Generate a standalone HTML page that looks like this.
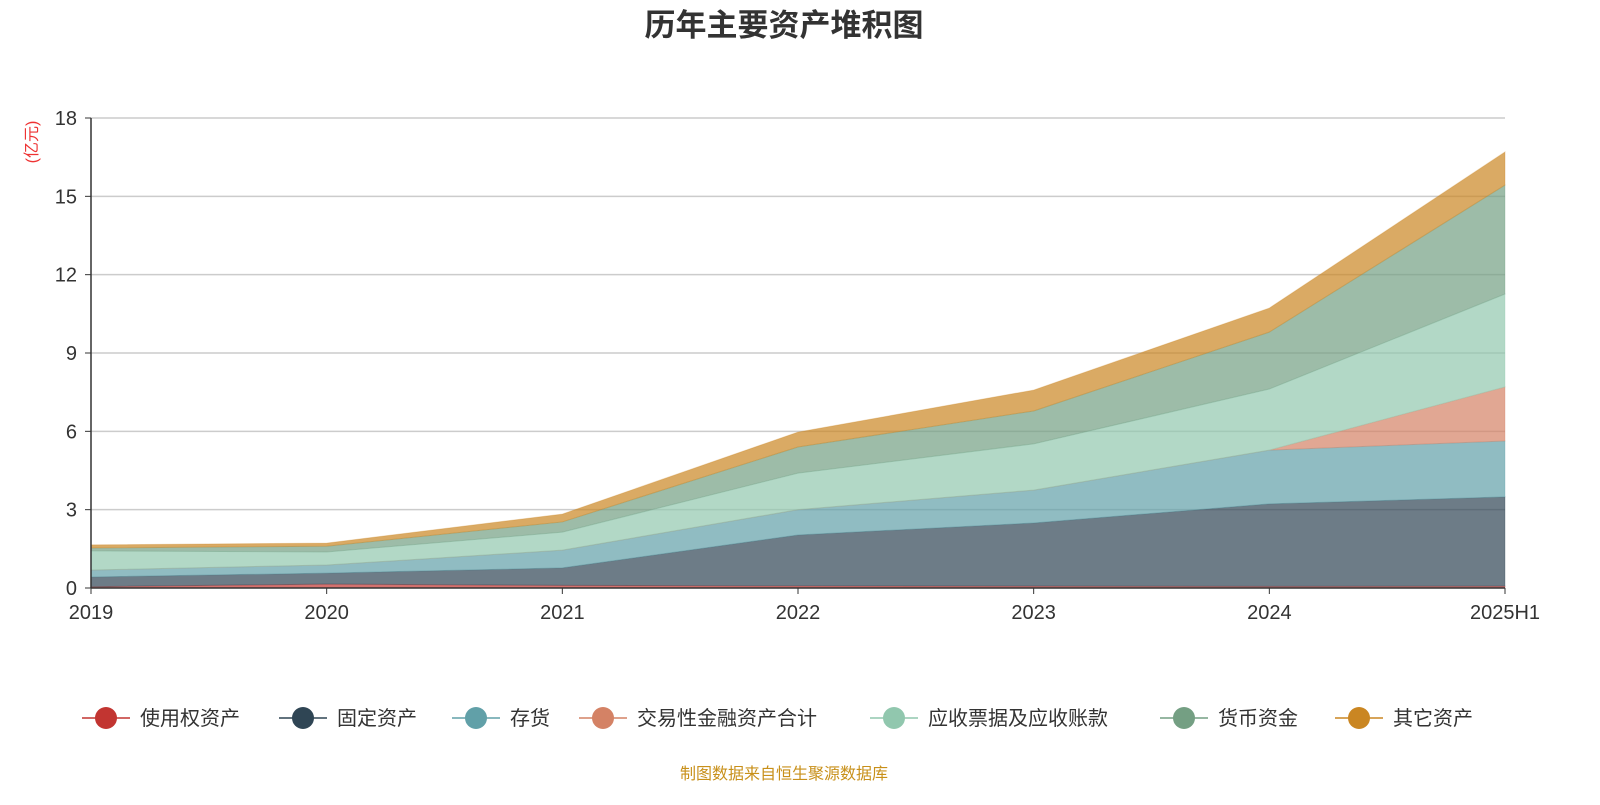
<!DOCTYPE html>
<html><head><meta charset="utf-8"><style>
body{margin:0;background:#fff;width:1600px;height:800px;overflow:hidden;font-family:"Liberation Sans","Noto Sans CJK SC",sans-serif;}
</style></head><body>
<svg id="c" width="1600" height="800" xmlns="http://www.w3.org/2000/svg">
<text x="784" y="36" text-anchor="middle" font-size="31" font-weight="bold" fill="#333" font-family="Liberation Sans,Noto Sans CJK SC,sans-serif">历年主要资产堆积图</text>
<text transform="translate(37,142) rotate(-90)" text-anchor="middle" font-size="16" fill="#e33" font-family="Liberation Sans,Noto Sans CJK SC,sans-serif">(亿元)</text>
<g id="grid"></g><g id="areas"></g><g id="axes"></g><g id="legend"></g>
<text x="784" y="779" text-anchor="middle" font-size="16" fill="#c8901a" font-family="Liberation Sans,Noto Sans CJK SC,sans-serif">制图数据来自恒生聚源数据库</text>
</svg>
<script>
const categories=["2019","2020","2021","2022","2023","2024","2025H1"];
const seriesNames=["使用权资产","固定资产","存货","交易性金融资产合计","应收票据及应收账款","货币资金","其它资产"];
const rouAssets=[0.05,0.15,0.10,0.08,0.07,0.06,0.07];
const fixedAssets=[0.37,0.42,0.67,1.95,2.42,3.16,3.42];
const inventory=[0.27,0.31,0.68,0.97,1.26,2.06,2.14];
const tradingAssets=[0,0,0,0,0,0,2.07];
const receivables=[0.73,0.50,0.69,1.40,1.77,2.34,3.56];
const cash=[0.11,0.22,0.39,1.00,1.26,2.18,4.17];
const otherAssets=[0.12,0.12,0.30,0.57,0.80,0.92,1.27];
const yTicks=[0,3,6,9,12,15,18];
const series=[rouAssets,fixedAssets,inventory,tradingAssets,receivables,cash,otherAssets];
const colors=["#c23531","#2f4554","#61a0a8","#d48265","#91c7ae","#749f83","#ca8622"];
const NS="http://www.w3.org/2000/svg";
const X0=91,X1=1505,Y0=588,Y1=118,YMAX=18;
const x=i=>X0+(X1-X0)*i/(categories.length-1);
const y=v=>Y0-(Y0-Y1)*v/YMAX;
function mk(t,a,p){const e=document.createElementNS(NS,t);for(const k in a)e.setAttribute(k,a[k]);p.appendChild(e);return e;}
const grid=document.getElementById('grid'),axes=document.getElementById('axes'),areas=document.getElementById('areas'),legend=document.getElementById('legend');
yTicks.forEach(v=>{
 if(v>0){const l=mk('line',{x1:X0,x2:X1,y1:y(v),y2:y(v),stroke:'#ccc','stroke-width':1.5},grid);
 
 }
 const tk=mk('line',{x1:X0-6,x2:X0,y1:y(v),y2:y(v),stroke:'#333'},axes);
 
 
 const t=mk('text',{x:X0-14,y:y(v)+7,'text-anchor':'end','font-size':20,fill:'#333'},axes);t.textContent=v;
 
 
});
let base=categories.map(()=>0);
series.forEach((s,si)=>{
 const top=base.map((b,i)=>b+s[i]);
 let d='M'+categories.map((c,i)=>x(i)+','+y(top[i])).join('L');
 for(let i=categories.length-1;i>=0;i--)d+='L'+x(i)+','+y(base[i]);
 d+='Z';
 const p=mk('path',{d:d,fill:colors[si],'fill-opacity':0.7,stroke:colors[si],'stroke-opacity':0.3,'stroke-width':1},areas);
 
 
 base=top;
});
const xa=mk('line',{x1:X0,x2:X1,y1:Y0,y2:Y0,stroke:'#333','stroke-width':1.5},axes);


const ya=mk('line',{x1:X0,x2:X0,y1:Y1,y2:Y0,stroke:'#333','stroke-width':1.5},axes);


categories.forEach((c,i)=>{
 const tk=mk('line',{x1:x(i),x2:x(i),y1:Y0,y2:Y0+6,stroke:'#333'},axes);
 
 
 const t=mk('text',{x:x(i),y:Y0+31,'text-anchor':'middle','font-size':20,fill:'#333'},axes);t.textContent=c;
 
 
});
const lx=[82,279,452,579,870,1160,1335];
seriesNames.forEach((n,i)=>{
 const g=mk('g',{},legend);
 
 
 mk('line',{x1:lx[i],x2:lx[i]+48,y1:718,y2:718,stroke:colors[i],'stroke-width':1.5},g);
 mk('circle',{cx:lx[i]+24,cy:718,r:11,fill:colors[i]},g);
 const t=mk('text',{x:lx[i]+58,y:725,'font-size':20,fill:'#333'},g);t.textContent=n;
});
</script>
</body></html>
